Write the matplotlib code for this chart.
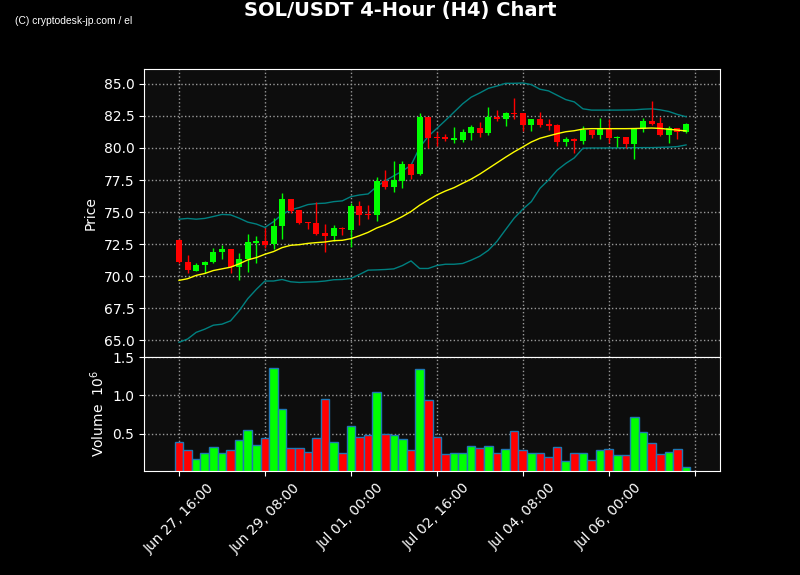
import numpy as np
import pandas as pd
import matplotlib
matplotlib.use("Agg")
import matplotlib.pyplot as plt
from matplotlib.ticker import FuncFormatter, MultipleLocator

# 4-hour candles, SOL/USDT
times = pd.date_range("2024-06-27 16:00", periods=60, freq="4h")

opens = [72.84, 71.13, 70.43, 70.85, 71.08, 71.86, 72.14, 70.69, 71.36, 72.60,
         72.76, 72.48, 73.88, 76.02, 75.17, 74.24, 74.16, 73.38, 73.10, 73.77,
         73.62, 75.48, 74.88, 74.78, 77.42, 76.95, 77.45, 78.74, 77.99, 82.39,
         80.86, 80.86, 80.63, 80.60, 81.14, 81.53, 81.14, 82.46, 82.23, 82.72,
         82.72, 81.77, 82.23, 81.84, 81.77, 80.45, 80.68, 80.55, 81.43, 80.99,
         81.58, 80.78, 80.84, 80.32, 81.46, 82.08, 81.92, 81.01, 81.53, 81.25]
highs = [72.90, 71.65, 71.00, 71.15, 72.17, 72.40, 72.14, 71.80, 73.30, 73.15,
         73.75, 74.52, 76.49, 76.02, 75.17, 74.24, 75.76, 74.06, 73.98, 73.80,
         75.69, 75.84, 75.53, 77.76, 78.25, 78.95, 78.95, 78.74, 82.75, 82.39,
         81.27, 81.09, 81.66, 81.46, 81.82, 82.05, 83.24, 82.98, 82.85, 83.91,
         82.72, 82.23, 82.83, 82.26, 81.84, 80.86, 80.81, 81.74, 81.43, 82.33,
         82.28, 80.96, 80.84, 81.51, 82.36, 83.68, 82.44, 81.74, 81.58, 81.97]
lows = [71.00, 70.25, 70.36, 70.20, 71.00, 71.34, 70.25, 69.68, 70.30, 71.03,
        72.19, 72.12, 72.89, 74.90, 74.03, 73.67, 73.20, 71.88, 72.71, 73.23,
        72.24, 73.98, 74.44, 74.26, 76.77, 76.54, 76.85, 77.55, 77.88, 80.03,
        80.14, 80.52, 80.37, 80.45, 80.65, 80.86, 81.01, 82.10, 81.74, 82.23,
        81.33, 81.33, 81.61, 81.43, 80.16, 80.16, 79.64, 80.34, 80.81, 80.70,
        80.39, 80.08, 80.03, 79.15, 81.25, 81.82, 80.94, 80.42, 80.70, 81.20]
closes = [71.08, 70.46, 70.90, 71.13, 71.91, 72.14, 70.72, 71.36, 72.68, 72.76,
          72.45, 73.93, 76.02, 75.09, 74.16, 74.11, 73.31, 73.10, 73.77, 73.64,
          75.48, 74.78, 74.75, 77.42, 76.95, 77.50, 78.74, 77.88, 82.39, 80.78,
          80.78, 80.68, 80.78, 81.22, 81.61, 81.14, 82.46, 82.23, 82.70, 82.65,
          81.79, 82.23, 81.77, 81.71, 80.47, 80.68, 80.52, 81.38, 80.99, 81.58,
          80.76, 80.89, 80.32, 81.51, 82.08, 81.87, 80.99, 81.53, 81.25, 81.84]

# volume in millions
volumes = [0.397, 0.295, 0.167, 0.244, 0.333, 0.244, 0.295, 0.415, 0.551, 0.359,
           0.440, 1.359, 0.820, 0.312, 0.320, 0.269, 0.449, 0.949, 0.397, 0.256,
           0.603, 0.462, 0.487, 1.051, 0.500, 0.487, 0.436, 0.295, 1.346, 0.936,
           0.462, 0.231, 0.256, 0.244, 0.346, 0.321, 0.346, 0.244, 0.308, 0.538,
           0.295, 0.256, 0.256, 0.192, 0.333, 0.141, 0.244, 0.244, 0.154, 0.295,
           0.308, 0.218, 0.218, 0.718, 0.526, 0.385, 0.231, 0.269, 0.308, 0.064]

# 20-period SMA and Bollinger bands as drawn
sma = [69.66, 69.79, 70.05, 70.20, 70.43, 70.56, 70.69, 70.95, 71.26, 71.44,
       71.70, 71.91, 72.22, 72.40, 72.45, 72.55, 72.61, 72.66, 72.76, 72.79,
       72.92, 73.15, 73.41, 73.75, 74.00, 74.31, 74.65, 75.04, 75.53, 75.94,
       76.33, 76.64, 76.90, 77.24, 77.57, 77.96, 78.40, 78.84, 79.28, 79.70,
       80.08, 80.47, 80.76, 80.94, 81.12, 81.27, 81.35, 81.48, 81.51, 81.51,
       81.51, 81.51, 81.51, 81.52, 81.54, 81.56, 81.53, 81.46, 81.40, 81.33]
bb_upper = [74.44, 74.50, 74.44, 74.50, 74.65, 74.81, 74.78, 74.52, 74.21, 74.06,
            73.80, 74.24, 74.81, 75.17, 75.35, 75.58, 75.66, 75.69, 75.81, 75.87,
            76.20, 76.33, 76.41, 76.98, 77.44, 77.83, 78.20, 78.66, 80.03, 80.91,
            81.53, 82.15, 82.80, 83.45, 83.97, 84.30, 84.66, 84.84, 85.05, 85.05,
            85.08, 84.95, 84.59, 84.46, 84.12, 83.78, 83.60, 83.06, 82.96, 82.96,
            82.96, 82.96, 82.97, 82.98, 83.03, 83.06, 82.98, 82.85, 82.62, 82.44]
bb_lower = [64.82, 65.08, 65.60, 65.85, 66.16, 66.24, 66.50, 67.28, 68.23, 68.96,
            69.61, 69.61, 69.73, 69.55, 69.50, 69.53, 69.55, 69.61, 69.71, 69.73,
            69.81, 70.12, 70.46, 70.48, 70.51, 70.56, 70.82, 71.18, 70.59, 70.59,
            70.82, 70.92, 70.92, 70.98, 71.24, 71.55, 72.01, 72.71, 73.62, 74.52,
            75.22, 75.81, 76.85, 77.50, 78.27, 78.79, 79.23, 79.98, 80.00, 80.00,
            80.00, 80.01, 80.02, 80.02, 80.03, 80.03, 80.05, 80.07, 80.11, 80.24]

UP = "#00ff00"
DOWN = "#ff0000"
BG = "#0d0d0d"

x = np.arange(len(times))
colors = [UP if c >= o else DOWN for o, c in zip(opens, closes)]

fig = plt.figure(figsize=(8, 5.75), dpi=100, facecolor="black")
ax = fig.add_axes([0.18, 0.379, 0.72, 0.501])
axv = fig.add_axes([0.18, 0.181, 0.72, 0.198], sharex=ax)

for a in (ax, axv):
    a.set_facecolor(BG)
    for s in a.spines.values():
        s.set_color("white")
    a.tick_params(colors="white", labelsize=10)
    a.grid(True, color="#999999", linestyle=":", linewidth=1)
    a.set_axisbelow(True)

# candles
for i in x:
    ax.vlines(i, lows[i], highs[i], color=colors[i], linewidth=1, zorder=2)
    lo = min(opens[i], closes[i])
    h = max(abs(closes[i] - opens[i]), 0.04)
    ax.bar(i, h, bottom=lo, width=0.7, color=colors[i], zorder=3)

ax.plot(x, sma, color="yellow", linewidth=1, zorder=4)
ax.plot(x, bb_upper, color="#008080", linewidth=1, zorder=1)
ax.plot(x, bb_lower, color="#008080", linewidth=1, zorder=1)

ax.set_ylim(63.67, 86.17)
ax.yaxis.set_major_locator(MultipleLocator(2.5))
ax.set_ylabel("Price", color="white", fontsize=10)
ax.tick_params(axis="x", labelbottom=False, length=0)

axv.bar(x, volumes, width=1.0, color=colors, edgecolor="#1f77b4", linewidth=1)
axv.set_ylim(0.017, 1.49)
axv.set_yticks([0.5, 1.0, 1.5])
axv.set_ylabel("Volume  $10^{6}$", color="white", fontsize=10)

axv.set_xlim(-4.07, 62.95)
axv.set_xticks(np.arange(0, 61, 10))


def fmt_time(val, pos):
    i = int(round(val))
    if 0 <= i < len(times):
        return times[i].strftime("%b %d, %H:%M")
    return ""


axv.xaxis.set_major_formatter(FuncFormatter(fmt_time))
plt.setp(axv.get_xticklabels(), rotation=45)

fig.text(0.5, 0.981, "SOL/USDT 4-Hour (H4) Chart", color="white",
         fontsize=14, fontweight="bold", ha="center", va="center")
fig.text(0.019, 0.964, "(C) cryptodesk-jp.com / el", color="white",
         fontsize=7.4, family="Liberation Sans", ha="left", va="center")

fig.savefig("out.png", dpi=100, facecolor="black")
